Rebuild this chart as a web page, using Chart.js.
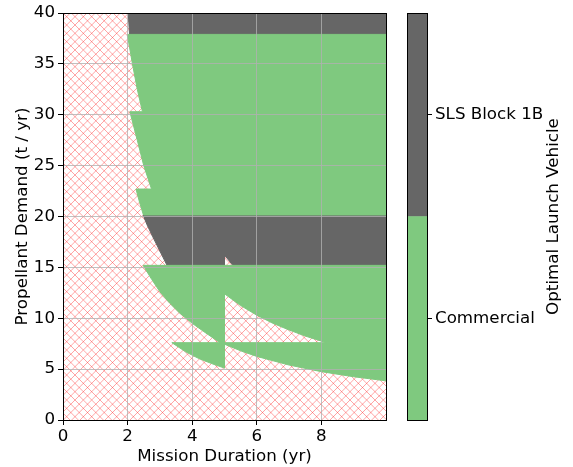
<!DOCTYPE html>
<html><head><meta charset="utf-8">
<script src="https://cdn.jsdelivr.net/npm/chart.js@4.4.1/dist/chart.umd.min.js"></script>
<style>
html,body{margin:0;padding:0;background:#fff;}
#wrap{position:relative;width:573px;height:467px;}
canvas{position:absolute;left:0;top:0;}
</style></head><body>
<div id="wrap"><canvas id="main" width="573" height="467"></canvas><canvas id="cb" width="573" height="467"></canvas></div>
<script>
// ---- axis settings ----
const xTicks = [0, 2, 4, 6, 8];
const yTicks = [0, 5, 10, 15, 20, 25, 30, 35, 40];
const xRange = [0, 10];
const yRange = [0, 40];
const xTitle = 'Mission Duration (yr)';
const yTitle = 'Propellant Demand (t / yr)';

// ---- colour bar ----
const vehicleNames = ['Commercial', 'SLS Block 1B'];
const vehicleColors = ['#7fc97f', '#666666'];
const vehicleSpan = [1, 1];
const cbTickValues = [0.5, 1.5];
const cbTitle = 'Optimal Launch Vehicle';

// ---- regions: [duration (yr), demand (t/yr)] ----
const infeasible = [[0, 0], [10, 0], [10, 40], [0, 40], [0, 0]];
const slsTop = [[2.02, 40], [10, 40], [10, 37.9], [2.06, 37.9], [2.02, 40]];
const slsMid = [[2.48, 20.15], [10, 20.15], [10, 15.2], [5.26, 15.2], [5.0, 16.2], [5.0, 15.2],
                [3.22, 15.2], [3.0, 16.6], [2.78, 18.0], [2.6, 19.2], [2.48, 20.15]];
const comUpper = [[1.99, 37.9], [10, 37.9], [10, 20.15], [2.49, 20.15], [2.37, 21.4], [2.26, 22.7],
                  [2.74, 22.7], [2.5, 25.0], [2.3, 27.5], [2.07, 30.3], [2.46, 30.3], [2.3, 32.5],
                  [2.15, 35.0], [1.99, 37.9]];
const comLeftUpper = [[2.48, 15.2], [5.0, 15.2], [5.0, 7.6], [4.86, 7.6], [4.4, 8.6], [4.0, 9.5],
                      [3.6, 10.55], [3.3, 11.5], [3.0, 12.6], [2.75, 13.8], [2.48, 15.2]];
const comLeftLower = [[3.37, 7.6], [5.0, 7.6], [5.0, 5.1], [4.6, 5.55], [4.2, 6.05], [3.8, 6.7], [3.37, 7.6]];
const comRightUpper = [[5.0, 15.2], [10, 15.2], [10, 7.6], [8.15, 7.6], [7.5, 8.25], [7.0, 8.85],
                       [6.5, 9.5], [6.0, 10.3], [5.5, 11.25], [5.0, 12.4], [5.0, 15.2]];
const comRightLower = [[5.0, 7.6], [10, 7.6], [10, 3.85], [9.0, 4.25], [8.0, 4.75], [7.0, 5.4],
                       [6.0, 6.25], [5.5, 6.8], [5.0, 7.45], [5.0, 7.6]];

const FONT = "'DejaVu Sans', 'Liberation Sans', sans-serif";
const FS = 16.7;
Chart.defaults.font.family = FONT;
Chart.defaults.font.size = FS;
Chart.defaults.color = '#000';

function makeHatch(ctx) {
  const s = 50, n = 6, d = s / n;
  const c = document.createElement('canvas');
  c.width = s; c.height = s;
  const g = c.getContext('2d');
  g.fillStyle = '#ffffff';
  g.fillRect(0, 0, s, s);
  g.strokeStyle = 'rgba(255,30,30,0.4)';
  g.lineWidth = 1;
  g.beginPath();
  for (let k = -n; k <= n; k++) {
    const c0 = k * d;
    g.moveTo(c0, 0); g.lineTo(c0 + s, s);
    g.moveTo(c0, s); g.lineTo(c0 + s, 0);
  }
  g.stroke();
  return ctx.createPattern(c, 'repeat');
}

const mainCanvas = document.getElementById('main');
const hatch = makeHatch(mainCanvas.getContext('2d'));

function region(points, color, order, bw) {
  return {
    data: points.map(p => ({x: p[0], y: p[1]})),
    showLine: true, fill: 'shape', tension: 0,
    backgroundColor: color, borderColor: color, borderWidth: bw,
    pointRadius: 0, pointHoverRadius: 0, order: order
  };
}

const datasets = [
  region(infeasible, hatch, 5, 0),
  region(slsTop, vehicleColors[1], 2, 1),
  region(slsMid, vehicleColors[1], 2, 1),
  region(comUpper, vehicleColors[0], 1, 1),
  region(comLeftUpper, vehicleColors[0], 1, 1),
  region(comLeftLower, vehicleColors[0], 1, 1),
  region(comRightUpper, vehicleColors[0], 1, 1),
  region(comRightLower, vehicleColors[0], 1, 1)
];

const spinePlugin = {
  id: 'spines',
  afterDraw(chart) {
    const a = chart.chartArea, ctx = chart.ctx;
    ctx.save();
    ctx.strokeStyle = '#000';
    ctx.lineWidth = 1;
    const l = Math.floor(a.left) + 0.5, t = Math.floor(a.top) + 0.5;
    const r = Math.floor(a.right) + 0.5, b = Math.floor(a.bottom) + 0.5;
    ctx.strokeRect(l, t, r - l, b - t);
    ctx.restore();
  }
};

new Chart(mainCanvas, {
  type: 'scatter',
  data: {datasets},
  options: {
    responsive: false, animation: false, devicePixelRatio: 1, events: [],
    layout: {padding: {left: 0, top: 12, right: 187, bottom: 0}},
    plugins: {legend: {display: false}, tooltip: {enabled: false}},
    scales: {
      x: {
        type: 'linear', position: 'bottom', min: xRange[0], max: xRange[1], z: 1,
        afterBuildTicks: s => { s.ticks = xTicks.map(v => ({value: v})); },
        afterFit: s => { s.height = 47; },
        grid: {z: 1, color: 'rgba(176,176,176,0.8)', lineWidth: 1, tickColor: '#000', tickLength: 5},
        border: {display: false},
        ticks: {padding: 2, maxRotation: 0, autoSkip: false, font: {size: FS}},
        title: {display: true, text: xTitle, font: {size: FS}, padding: {top: 0, bottom: 0}}
      },
      y: {
        type: 'linear', position: 'left', min: yRange[0], max: yRange[1], z: 1,
        afterBuildTicks: s => { s.ticks = yTicks.map(v => ({value: v})); },
        afterFit: s => { s.width = 63; },
        grid: {z: 1, color: 'rgba(176,176,176,0.8)', lineWidth: 1, tickColor: '#000', tickLength: 5},
        border: {display: false},
        ticks: {padding: 3, autoSkip: false, font: {size: FS}},
        title: {display: true, text: yTitle, font: {size: FS}, padding: {top: 13, bottom: 0}}
      }
    }
  },
  plugins: [spinePlugin]
});

const cbPlugin = {
  id: 'cbframe',
  afterDraw(chart) {
    const a = chart.chartArea, ctx = chart.ctx;
    ctx.save();
    ctx.strokeStyle = '#000';
    ctx.lineWidth = 1;
    const l = Math.floor(a.left) + 0.5, t = Math.floor(a.top) + 0.5;
    const r = Math.floor(a.right) + 0.5, b = Math.floor(a.bottom) + 0.5;
    ctx.strokeRect(l, t, r - l, b - t);
    ctx.translate(554, (a.top + a.bottom) / 2);
    ctx.rotate(-Math.PI / 2);
    ctx.font = FS + 'px ' + FONT;
    ctx.fillStyle = '#000';
    ctx.textAlign = 'center';
    ctx.textBaseline = 'middle';
    ctx.fillText(cbTitle, 0, 0);
    ctx.restore();
  }
};

new Chart(document.getElementById('cb'), {
  type: 'bar',
  data: {
    labels: [''],
    datasets: vehicleNames.map((n, i) => ({
      label: n, data: [vehicleSpan[i]], backgroundColor: vehicleColors[i],
      borderWidth: 0, barPercentage: 1, categoryPercentage: 1
    }))
  },
  options: {
    responsive: false, animation: false, devicePixelRatio: 1, events: [],
    layout: {padding: {left: 407, top: 12, right: 0, bottom: 47}},
    plugins: {legend: {display: false}, tooltip: {enabled: false}},
    scales: {
      x: {display: false, stacked: true},
      y: {
        stacked: true, position: 'right', min: 0, max: 2,
        afterBuildTicks: s => { s.ticks = cbTickValues.map(v => ({value: v})); },
        afterFit: s => { s.width = 146; },
        ticks: {callback: (v, i) => vehicleNames[i], padding: 3, font: {size: FS}},
        grid: {drawOnChartArea: false, tickLength: 5, tickColor: '#000'},
        border: {display: false}
      }
    }
  },
  plugins: [cbPlugin]
});
</script>
</body></html>
